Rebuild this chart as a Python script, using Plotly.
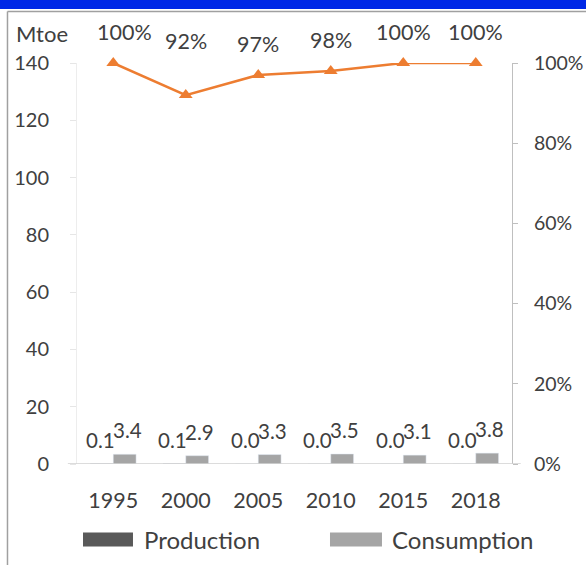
import plotly.graph_objects as go

years = ["1995", "2000", "2005", "2010", "2015", "2018"]
production = [0.1, 0.1, 0.0, 0.0, 0.0, 0.0]
consumption = [3.4, 2.9, 3.3, 3.5, 3.1, 3.8]
ratio = [1.00, 0.92, 0.97, 0.98, 1.00, 1.00]

FONT = "Lato"
TXT = "#404040"
ORANGE = "#ED7D31"

fig = go.Figure()
fig.add_trace(go.Bar(x=years, y=production, name="Production", marker_color="#595959"))
fig.add_trace(go.Bar(x=years, y=consumption, name="Consumption", marker_color="#A5A5A5"))
fig.add_trace(go.Scatter(x=years, y=ratio, yaxis="y2", mode="lines+markers",
                         line=dict(color=ORANGE, width=2.5),
                         marker=dict(symbol="triangle-up", size=12, color=ORANGE),
                         cliponaxis=False, showlegend=False))

# bar value labels (x given as category index)
for i, yr in enumerate(years):
    fig.add_annotation(x=i, y=production[i], text=f"{production[i]:.1f}", showarrow=False,
                       xshift=-13, yshift=24, yanchor="middle",
                       font=dict(size=20.5, color=TXT, family=FONT))
    fig.add_annotation(x=i, y=consumption[i], text=f"{consumption[i]:.1f}", showarrow=False,
                       xshift=14, yshift=24, yanchor="middle",
                       font=dict(size=20.5, color=TXT, family=FONT))
    # ratio labels (2000 sits higher, first one nudged right as in source)
    ys = 54 if yr == "2000" else 31
    xs = 11 if i == 0 else 0
    fig.add_annotation(x=i, y=ratio[i], yref="y2", text=f"{ratio[i]:.0%}", showarrow=False,
                       xshift=xs, yshift=ys, yanchor="middle",
                       font=dict(size=21.5, color=TXT, family=FONT))

fig.add_annotation(x=-0.1448, y=1.0748, xref="paper", yref="paper", text="Mtoe",
                   xanchor="left", yanchor="middle", showarrow=False,
                   font=dict(size=22, color=TXT, family=FONT))

# legend drawn by hand (wide swatches)
fig.add_shape(type="rect", xref="paper", yref="paper", x0=0.0138, x1=0.1287, y0=-0.206, y1=-0.171,
              fillcolor="#595959", line_width=0)
fig.add_annotation(x=0.1494, y=-0.188, xref="paper", yref="paper", text="Production",
                   xanchor="left", yanchor="middle", showarrow=False,
                   font=dict(size=24, color=TXT, family=FONT))
fig.add_shape(type="rect", xref="paper", yref="paper", x0=0.5816, x1=0.7011, y0=-0.206, y1=-0.171,
              fillcolor="#A5A5A5", line_width=0)
fig.add_annotation(x=0.7195, y=-0.188, xref="paper", yref="paper", text="Consumption",
                   xanchor="left", yanchor="middle", showarrow=False,
                   font=dict(size=24, color=TXT, family=FONT))

# zero line running a bit past both axes
fig.add_shape(type="line", xref="paper", yref="y", x0=-0.021, x1=1.02, y0=0, y1=0,
              line=dict(color="#D0D0D0", width=1.5))

# frame: blue band and grey border
fig.add_shape(type="rect", xref="paper", yref="paper", x0=-0.2, x1=1.2, y0=1.1347, y1=1.17,
              fillcolor="#0028E6", line_width=0)
fig.add_shape(type="line", xref="paper", yref="paper", x0=-0.1598, x1=1.2, y0=1.1284, y1=1.1284,
              line=dict(color="#A0A0A0", width=1.5))
fig.add_shape(type="line", xref="paper", yref="paper", x0=-0.1598, x1=-0.1598, y0=1.1284, y1=-0.3,
              line=dict(color="#A0A0A0", width=1.5))

fig.update_layout(
    width=586, height=565, autosize=False,
    margin=dict(l=77, r=74, t=63, b=101),
    paper_bgcolor="white", plot_bgcolor="white",
    barmode="group", bargap=0.37, bargroupgap=0,
    showlegend=False,
    font=dict(family=FONT, size=19, color=TXT),
    xaxis=dict(type="category", range=[-0.5, 5.5], showgrid=False, showline=False,
               automargin=False, ticks="", ticklabelstandoff=21,
               tickfont=dict(size=21.5, color=TXT)),
    yaxis=dict(range=[0, 140], dtick=20, showgrid=False, zeroline=False, automargin=False,
               showline=True, linecolor="#EDEDED", ticks="outside", ticklen=6,
               tickcolor="#E6E6E6", ticklabelstandoff=17, tickfont=dict(size=20, color=TXT)),
    yaxis2=dict(range=[0, 1], dtick=0.2, tickformat=".0%", overlaying="y", side="right",
                showgrid=False, zeroline=False, automargin=False,
                showline=True, linecolor="#BFBFBF",
                ticks="outside", ticklen=5, tickcolor="#BFBFBF", ticklabelstandoff=12,
                tickfont=dict(size=19.5, color=TXT)),
)

# drop the browser's default body margin so the figure sits at the page corner
fig.write_html("out.html", config={"displayModeBar": False},
               post_script="document.body.style.margin='0';")
